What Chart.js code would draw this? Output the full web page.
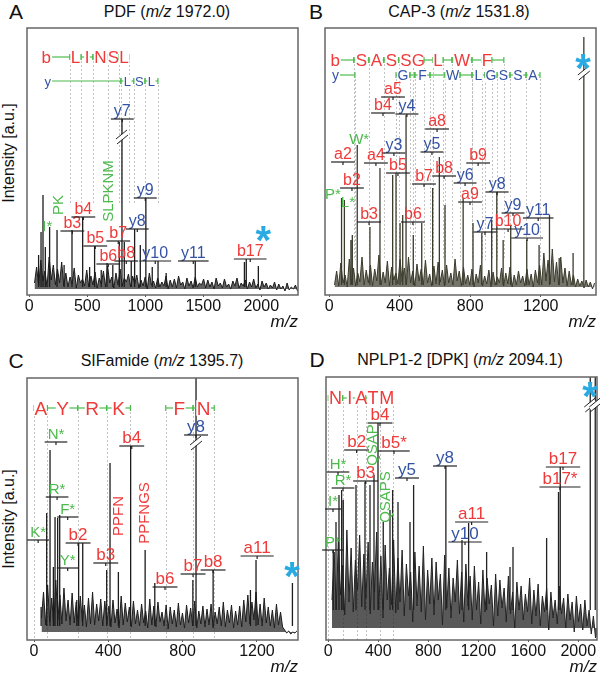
<!DOCTYPE html>
<html><head><meta charset="utf-8">
<script src="https://cdn.jsdelivr.net/npm/chart.js@4.4.1/dist/chart.umd.min.js"></script>
<style>
body{margin:0;background:#fff;width:600px;height:675px;position:relative;overflow:hidden;font-family:Arial,"Liberation Sans",sans-serif;color:#111}
canvas{position:absolute}
.t{position:absolute;font-size:16px;white-space:nowrap;transform:translate(-50%,-50%)}
.p{position:absolute;font-size:21px;transform:translate(-50%,-50%)}
.yl{position:absolute;font-size:16px;white-space:nowrap;transform:translate(-50%,-50%) rotate(-90deg)}
</style></head><body>
<div class="p" style="left:16px;top:12px">A</div>
<div class="t" style="left:167px;top:12px">PDF (<i>m/z</i> 1972.0)</div>
<div class="p" style="left:316px;top:12px">B</div>
<div class="t" style="left:459px;top:12px">CAP-3 (<i>m/z</i> 1531.8)</div>
<div class="p" style="left:16px;top:361px">C</div>
<div class="t" style="left:162px;top:361px">SIFamide (<i>m/z</i> 1395.7)</div>
<div class="p" style="left:317px;top:360px">D</div>
<div class="t" style="left:460px;top:360px">NPLP1-2 [DPK] (<i>m/z</i> 2094.1)</div>
<div class="yl" style="left:9px;top:153px">Intensity [a.u.]</div>
<div class="yl" style="left:9px;top:519px">Intensity [a.u.]</div>

<canvas id="cA" width="300" height="335" style="left:0;top:0"></canvas>
<canvas id="cB" width="300" height="335" style="left:300px;top:0"></canvas>
<canvas id="cC" width="300" height="340" style="left:0;top:335px"></canvas>
<canvas id="cD" width="300" height="340" style="left:300px;top:335px"></canvas>
<script>
// ---------- data ----------
// A  PDF
const ticksA = [0, 500, 1000, 1500, 2000];
const noiseA_start = 45, noiseA_step = 18;
const noiseA = [12, 28, 9, 35, 14, 24, 8, 38, 15, 30, 10, 26, 12, 33, 9,
  22, 8, 18, 11, 27, 7, 20, 12, 16, 9, 25, 8, 19, 10, 23, 7, 17,
  11, 24, 8, 29, 12, 18, 7, 22, 10, 26, 9, 17, 13, 21, 8, 19, 11,
  20, 7, 15, 9, 18, 6, 22, 10, 14, 7, 17, 8, 13, 9, 19, 6, 15,
  8, 16, 7, 19, 10, 13, 6, 17, 9, 14, 7, 18, 8, 12, 10, 16, 7,
  15, 8, 13, 6, 17, 9, 12, 7, 16, 8, 11, 6, 14, 9, 17, 7, 12,
  9, 15, 6, 13, 8, 16, 7, 11, 5, 14, 8, 12, 6, 10, 7, 13, 5,
  11, 6, 9, 4, 12, 5, 8, 6, 10, 4];
const peaksA_mz  = [80, 101, 118, 138, 175, 239, 300, 368, 460, 520, 563, 620, 670, 720, 776, 799, 819, 879, 908, 957, 1005, 1060, 1110, 1180, 1431, 1855, 1871, 1975];
const peaksA_int = [40, 63, 100, 48, 68, 65, 30, 65, 78, 28, 49, 25, 32, 30, 53, 176, 53, 34, 66, 50, 97, 28, 34, 22, 34, 33, 36, 29];
const ionsA = [['b3', 371, 64], ['b4', 466, 78], ['b5', 569, 49], ['b6', 681, 31], ['b7', 767, 54], ['b8', 836, 34],
  ['y7', 802, 176], ['y8', 931, 66], ['y9', 1000, 97], ['y10', 1086, 34], ['y11', 1414, 34], ['b17', 1905, 36], ['I*', 155, 61]];
const vertA = [['PK', 255, 90], ['SLPKNM', 687, 104]];
const ladA_b_mz = [196, 351, 446, 549, 678, 773, 859];
const ladA_b_res = ['', 'L', 'I', 'N', 'S', 'L'];
const ladA_y_mz = [196, 790, 902, 997, 1109];
const ladA_y_res = ['', 'L', 'S', 'L'];

// B  CAP-3
const ticksB = [0, 400, 800, 1200];
const noiseB_start = 30, noiseB_step = 12;
const noiseB = [10, 24, 9, 32, 12, 20, 8, 36, 11, 27, 9, 22, 13, 38, 10, 25,
  12, 30, 9, 26, 14, 40, 10, 23, 12, 34, 9, 28, 15, 22, 11, 36,
  13, 27, 10, 38, 12, 24, 9, 31, 14, 26, 10, 35, 12, 21, 9, 29,
  11, 33, 13, 25, 9, 30, 12, 22, 10, 36, 14, 24, 9, 28, 11, 20,
  10, 26, 8, 21, 12, 30, 9, 19, 11, 25, 8, 23, 10, 18, 12, 27,
  9, 22, 11, 28, 8, 20, 10, 24, 12, 19, 9, 26, 10, 21, 8, 25,
  12, 30, 10, 42, 14, 35, 11, 46, 13, 33, 10, 38, 12, 27, 9, 24,
  10, 20, 8, 16, 9, 14, 7, 15, 8, 13, 6, 12];
const peaksB_mz  = [70, 86, 123, 131, 159, 231, 288, 360, 379, 402, 417, 436, 477, 525, 587, 625, 657, 760, 816, 866, 922, 951, 987, 1030, 1121, 1191, 1250, 1305, 1384, 1445];
const peaksB_int = [97, 95, 55, 60, 150, 68, 127, 120, 122, 72, 80, 180, 60, 72, 107, 138, 90, 97, 72, 62, 75, 103, 55, 70, 55, 50, 80, 37, 42, 258];
const ionsB = [['a2', 78, 133], ['b2', 129, 107], ['b3', 226, 73], ['a4', 265, 132], ['b4', 305, 182], ['a5', 362, 198],
  ['y4', 441, 181], ['y3', 367, 142], ['b5', 390, 122], ['b6', 475, 73], ['b7', 538, 111], ['a8', 612, 166],
  ['y5', 583, 143], ['b8', 652, 119], ['b9', 845, 132], ['y6', 771, 112], ['a9', 799, 93], ['y8', 953, 103],
  ['y7', 884, 63], ['b10', 1015, 66], ['y9', 1043, 82], ['y10', 1123, 57], ['y11', 1186, 77],
  ['P*', 21, 93], ['L*', 106, 85], ['W*', 170, 148]];
const ladB_b_mz = [66, 140, 225, 310, 395, 475, 538, 589, 646, 697, 810, 867, 923, 991];
const ladB_b_res = ['', 'S', 'A', 'S', 'S', 'G', '', 'L', '', 'W', '', 'F', ''];
const ladB_y_mz = [61, 146, 379, 458, 486, 572, 657, 742, 810, 884, 952, 1026, 1117, 1196];
const ladB_y_res = ['', ' ', 'G', '', 'F', '', 'W', '', 'L', 'G', 'S', 'S', 'A'];

// C  SIFamide
const ticksC = [0, 400, 800, 1200];
const noiseC_start = 40, noiseC_step = 11;
const noiseC = [22, 48, 15, 55, 18, 42, 14, 60, 20, 45, 16, 52, 19, 40, 15, 47,
  17, 38, 14, 44, 18, 35, 13, 42, 16, 48, 15, 36, 19, 41, 14, 39,
  16, 34, 13, 40, 17, 31, 12, 44, 15, 37, 18, 33, 13, 39, 16, 30,
  14, 36, 17, 29, 12, 41, 15, 34, 13, 38, 18, 28, 14, 35, 11, 33,
  16, 30, 13, 37, 15, 27, 12, 35, 17, 32, 14, 39, 12, 29, 16, 34,
  13, 31, 15, 36, 12, 28, 16, 33, 14, 38, 13, 30, 17, 35, 12, 29,
  15, 34, 13, 40, 18, 45, 16, 38, 20, 48, 15, 36, 14, 42, 17, 33,
  14, 30, 12, 36, 15, 28, 13, 10, 7, 9, 6, 8, 7, 9];
const peaksC_mz  = [38, 68, 86, 104, 113, 127, 138, 230, 240, 262, 391, 409, 454, 520, 598, 650, 855, 872, 964, 1165, 1195, 1391];
const peaksC_int = [33, 127, 190, 73, 123, 122, 125, 40, 97, 97, 70, 177, 68, 194, 90, 57, 60, 262, 70, 50, 80, 57];
const ionsC = [['N*', 118, 198], ['R*', 124, 143], ['F*', 181, 123], ['K*', 22, 100], ['Y*', 181, 72],
  ['b2', 237, 97], ['b3', 386, 77], ['b4', 526, 194], ['b6', 705, 53], ['b7', 856, 66], ['b8', 964, 70],
  ['a11', 1201, 84], ['y8', 872, 205]];
const vertC = [['PPFN', 458, 124], ['PPFNGS', 598, 127]];
const ladC_mz = [0, 72, 235, 391, 519, 709, 856, 970];
const ladC_res = ['A', 'Y', 'R', 'K', ' ', 'F', 'N'];

// D  NPLP1-2 [DPK]
const ticksD = [0, 400, 800, 1200, 1600, 2000];
const noiseD_start = 30, noiseD_step = 17;
const noiseD = [40, 88, 30, 102, 45, 75, 25, 110, 38, 92, 28, 80, 50, 105, 33, 86,
  42, 98, 26, 78, 48, 108, 30, 84, 22, 95, 40, 72, 35, 100, 27, 82,
  38, 90, 24, 76, 44, 68, 18, 88, 34, 74, 28, 94, 20, 70, 36, 82,
  25, 78, 40, 66, 15, 85, 32, 72, 22, 62, 38, 80, 26, 68, 18, 76,
  34, 64, 20, 74, 30, 58, 16, 70, 28, 62, 36, 55, 14, 66, 24, 60,
  32, 52, 18, 64, 26, 48, 12, 58, 30, 54, 20, 46, 28, 62, 16, 50,
  24, 56, 14, 44, 28, 52, 10, 48, 22, 40, 16, 54, 26, 42, 12, 46,
  20, 38, 8, 44, 18, 36, 10, 40, 14, 30, 6, 24, 2, 10];
const peaksD_mz  = [40, 62, 86, 107, 120, 222, 294, 334, 366, 398, 440, 494, 515, 558, 654, 683, 941, 1070, 1123, 1267, 1454, 1478, 1747, 1842, 1856, 2096, 2136];
const peaksD_int = [90, 118, 145, 150, 140, 155, 158, 155, 165, 217, 118, 130, 150, 138, 118, 155, 174, 100, 117, 88, 73, 93, 102, 148, 173, 263, 263];
const ionsD = [['H*', 78, 168], ['R*', 118, 152], ['I*', 38, 131], ['P*', 38, 90], ['b2', 227, 190], ['b3', 299, 159],
  ['b4', 414, 217], ['b5*', 526, 189], ['y5', 630, 162], ['y8', 934, 174], ['a11', 1147, 118], ['y10', 1094, 98],
  ['b17', 1878, 173], ['b17*', 1854, 153]];
const vertD = [['QSAP', 358, 195], ['QSAPS', 462, 143]];
const ladD_mz = [0, 115, 229, 300, 416, 518];
const ladD_res = ['N', 'I', 'A', 'T', 'M'];

// ---------- drawing ----------
const FONT = "Arial, 'Liberation Sans', sans-serif";
Chart.defaults.font.family = FONT;
Chart.defaults.color = '#111';
const RED = '#ef3a3a', BLUE = '#3553a5', GREEN = '#4cba4c', STAR = '#29aae2';

function ionColor(t) {
    if (t[0] === 'y') return BLUE;
    if (t[0] === 'a' || t[0] === 'b') return RED;
    return GREEN;
}
function spectrum(start, step, vals) {
    return vals.map((v, i) => ({ x: start + i * step, y: v }));
}
function sticks(mz, ints, base) {
    const d = [];
    mz.forEach((m, i) => { d.push({ x: m, y: base }, { x: m, y: ints[i] }, { x: m, y: null }); });
    return d;
}
function seg(ctx, x0, y0, x1, y1) {
    ctx.beginPath(); ctx.moveTo(x0, y0); ctx.lineTo(x1, y1); ctx.stroke();
}

function annot(P) {
    return {
        id: 'annot' + P.key,
        beforeDatasetsDraw(chart) {
            const { ctx, scales: { x, y } } = chart;
            ctx.save();
            ctx.strokeStyle = '#b4b4b4'; ctx.lineWidth = 0.8; ctx.setLineDash([2, 2]);
            P.ladders.forEach((L) => {
                const top = y.getPixelForValue(L.level) + 4;
                L.mz.forEach((m, i) => {
                    if (i === 0 && L.start) return;
                    const px = Math.round(x.getPixelForValue(m)) + 0.5;
                    seg(ctx, px, top, px, y.getPixelForValue(P.dashEnd));
                });
            });
            ctx.restore();
        },
        afterDatasetsDraw(chart) {
            const { ctx, chartArea: a, scales: { x, y } } = chart;
            ctx.save();
            // frame
            ctx.strokeStyle = '#666'; ctx.lineWidth = 1.5;
            ctx.strokeRect(a.left, a.top, a.right - a.left, a.bottom - a.top);

            // axis breaks
            P.breaks.forEach(([m, lv]) => {
                const px = x.getPixelForValue(m), py = y.getPixelForValue(lv);
                ctx.strokeStyle = '#fff'; ctx.lineWidth = 4;
                seg(ctx, px - 5, py + 4, px + 5, py - 4);
                ctx.strokeStyle = '#222'; ctx.lineWidth = 1;
                seg(ctx, px - 6, py + 2, px + 5, py - 7);
                seg(ctx, px - 5, py + 7, px + 6, py - 2);
            });

            // ion labels
            ctx.textAlign = 'center'; ctx.textBaseline = 'alphabetic';
            P.ions.forEach(([t, m, lv]) => {
                const px = x.getPixelForValue(m), py = y.getPixelForValue(lv);
                const imm = /^[A-Z]/.test(t);
                ctx.font = (imm ? P.immSize : P.ionSize) + 'px ' + FONT;
                ctx.fillStyle = ionColor(t);
                ctx.fillText(t, px, py - 3);
                if (!imm || P.immLine) {
                    const w = ctx.measureText(t).width / 2 + 3;
                    ctx.strokeStyle = '#222'; ctx.lineWidth = 1.2;
                    seg(ctx, px - w, py, px + w, py);
                    seg(ctx, px, py, px, py + 3);
                }
            });

            // vertical fragment labels
            ctx.font = '15px ' + FONT; ctx.fillStyle = P.vColor; ctx.textBaseline = 'middle';
            P.vert.forEach(([t, m, lv]) => {
                ctx.save();
                ctx.translate(x.getPixelForValue(m), y.getPixelForValue(lv));
                ctx.rotate(-Math.PI / 2);
                ctx.fillText(t, 0, 0);
                ctx.restore();
            });

            // sequence ladders
            ctx.textBaseline = 'alphabetic';
            P.ladders.forEach((L) => {
                const py = y.getPixelForValue(L.level);
                const cap = L.size * 0.36;
                if (L.start) {
                    ctx.font = L.startSize + 'px ' + FONT;
                    ctx.fillStyle = L.color; ctx.textAlign = 'right';
                    ctx.fillText(L.start, x.getPixelForValue(L.mz[0]) - 1, py + L.startSize * 0.36);
                }
                ctx.textAlign = 'center';
                ctx.font = L.size + 'px ' + FONT;
                ctx.strokeStyle = GREEN; ctx.lineWidth = 1.2;
                for (let i = 0; i < L.res.length; i++) {
                    const r = L.res[i];
                    if (r === ' ') continue;
                    const x0 = x.getPixelForValue(L.mz[i]), x1 = x.getPixelForValue(L.mz[i + 1]);
                    seg(ctx, x0, py, x1, py);
                    if (i > 0 || !L.start) seg(ctx, x0, py - 3, x0, py + 3);
                    seg(ctx, x1, py - 3, x1, py + 3);
                    if (r !== '') {
                        const w = ctx.measureText(r).width, cx = (x0 + x1) / 2;
                        ctx.fillStyle = '#fff';
                        ctx.fillRect(cx - w / 2 - 0.5, py - cap - 1, w + 1, cap * 2 + 2);
                        ctx.fillStyle = L.color;
                        ctx.fillText(r, cx, py + cap);
                    }
                }
            });

            // precursor asterisk
            ctx.font = 'bold 40px ' + FONT; ctx.fillStyle = STAR; ctx.textAlign = 'center';
            const [sm, sl] = P.star;
            ctx.fillText('*', x.getPixelForValue(sm), y.getPixelForValue(sl) + 22);
            ctx.restore();
        }
    };
}

function panel(P) {
    new Chart(document.getElementById(P.canvas), {
        type: 'line',
        data: {
            datasets: [
                { data: P.noise, borderColor: P.color, borderWidth: 1, pointRadius: 0, tension: 0,
                  fill: { value: P.floor }, backgroundColor: P.fillColor },
                { data: P.peaks, borderColor: P.color, borderWidth: 1.3, pointRadius: 0, spanGaps: false }
            ]
        },
        options: {
            responsive: false,
            animation: false,
            events: [],
            layout: { padding: P.pad },
            plugins: { legend: { display: false }, tooltip: { enabled: false } },
            scales: {
                x: {
                    type: 'linear', min: P.xmin, max: P.xmax,
                    afterBuildTicks: (s) => { s.ticks = P.ticks.map((v) => ({ value: v })); },
                    afterFit: (s) => { s.height = P.axisH; },
                    ticks: { callback: (v) => String(v), font: { size: 16 }, color: '#111', padding: 0, maxRotation: 0, autoSkip: false },
                    grid: { drawOnChartArea: false, tickLength: 2, color: '#555' },
                    border: { display: false },
                    title: { display: true, text: 'm/z', align: 'end', color: '#111',
                             font: { size: 17, style: 'italic' }, padding: { top: 0, bottom: P.titlePad } }
                },
                y: { display: false, min: 0, max: P.ymax }
            }
        },
        plugins: [annot(P)]
    });
}

panel({
    key: 'A', canvas: 'cA', color: '#1c1c1c', floor: 6, fillColor: 'rgba(28,28,28,0.7)',
    xmin: -20, xmax: 2317, ymax: 267, ticks: ticksA,
    pad: { left: 27, top: 28, right: 2, bottom: 0 }, axisH: 40, titlePad: 3,
    noise: spectrum(noiseA_start, noiseA_step, noiseA),
    peaks: sticks(peaksA_mz, peaksA_int, 8),
    ions: ionsA, ionSize: 16, immSize: 15, immLine: false,
    vert: vertA, vColor: GREEN,
    ladders: [
        { start: 'b', startSize: 17, mz: ladA_b_mz, res: ladA_b_res, level: 238, color: RED, size: 17 },
        { start: 'y', startSize: 13, mz: ladA_y_mz, res: ladA_y_res, level: 214, color: BLUE, size: 13 }
    ],
    dashEnd: 90, breaks: [[799, 158]], star: [2017, 63]
});

panel({
    key: 'B', canvas: 'cB', color: '#3b3b2c', floor: 8, fillColor: 'rgba(59,59,44,0.7)',
    xmin: -24, xmax: 1514, ymax: 267, ticks: ticksB,
    pad: { left: 25, top: 28, right: 4, bottom: 0 }, axisH: 40, titlePad: 3,
    noise: spectrum(noiseB_start, noiseB_step, noiseB),
    peaks: sticks(peaksB_mz, peaksB_int, 10),
    ions: ionsB, ionSize: 16, immSize: 15, immLine: false,
    vert: [], vColor: GREEN,
    ladders: [
        { start: 'b', startSize: 17, mz: ladB_b_mz, res: ladB_b_res, level: 235, color: RED, size: 17 },
        { start: 'y', startSize: 14, mz: ladB_y_mz, res: ladB_y_res, level: 220, color: BLUE, size: 14 }
    ],
    dashEnd: 35, breaks: [[1445, 222]], star: [1440, 235]
});

panel({
    key: 'C', canvas: 'cC', color: '#1c1c1c', floor: 8, fillColor: 'rgba(28,28,28,0.7)',
    xmin: -38, xmax: 1421, ymax: 262, ticks: ticksC,
    pad: { left: 27, top: 43, right: 2, bottom: 0 }, axisH: 35, titlePad: -2,
    noise: spectrum(noiseC_start, noiseC_step, noiseC),
    peaks: sticks(peaksC_mz, peaksC_int, 14),
    ions: ionsC, ionSize: 17, immSize: 15, immLine: true,
    vert: vertC, vColor: RED,
    ladders: [
        { start: '', mz: ladC_mz, res: ladC_res, level: 232, color: RED, size: 19 }
    ],
    dashEnd: 0, breaks: [[872, 197]], star: [1389, 72]
});

panel({
    key: 'D', canvas: 'cD', color: '#222', floor: 12, fillColor: 'rgba(34,34,34,0.75)',
    xmin: -18, xmax: 2150, ymax: 263, ticks: ticksD,
    pad: { left: 26, top: 42, right: 3, bottom: 0 }, axisH: 35, titlePad: -2,
    noise: spectrum(noiseD_start, noiseD_step, noiseD),
    peaks: sticks(peaksD_mz, peaksD_int, 30),
    ions: ionsD, ionSize: 17, immSize: 15, immLine: true,
    vert: vertD, vColor: GREEN,
    ladders: [
        { start: '', mz: ladD_mz, res: ladD_res, level: 242, color: RED, size: 18 }
    ],
    dashEnd: 0, breaks: [[2096, 235], [2136, 235]], star: [2094, 252]
});
</script>
</body></html>
